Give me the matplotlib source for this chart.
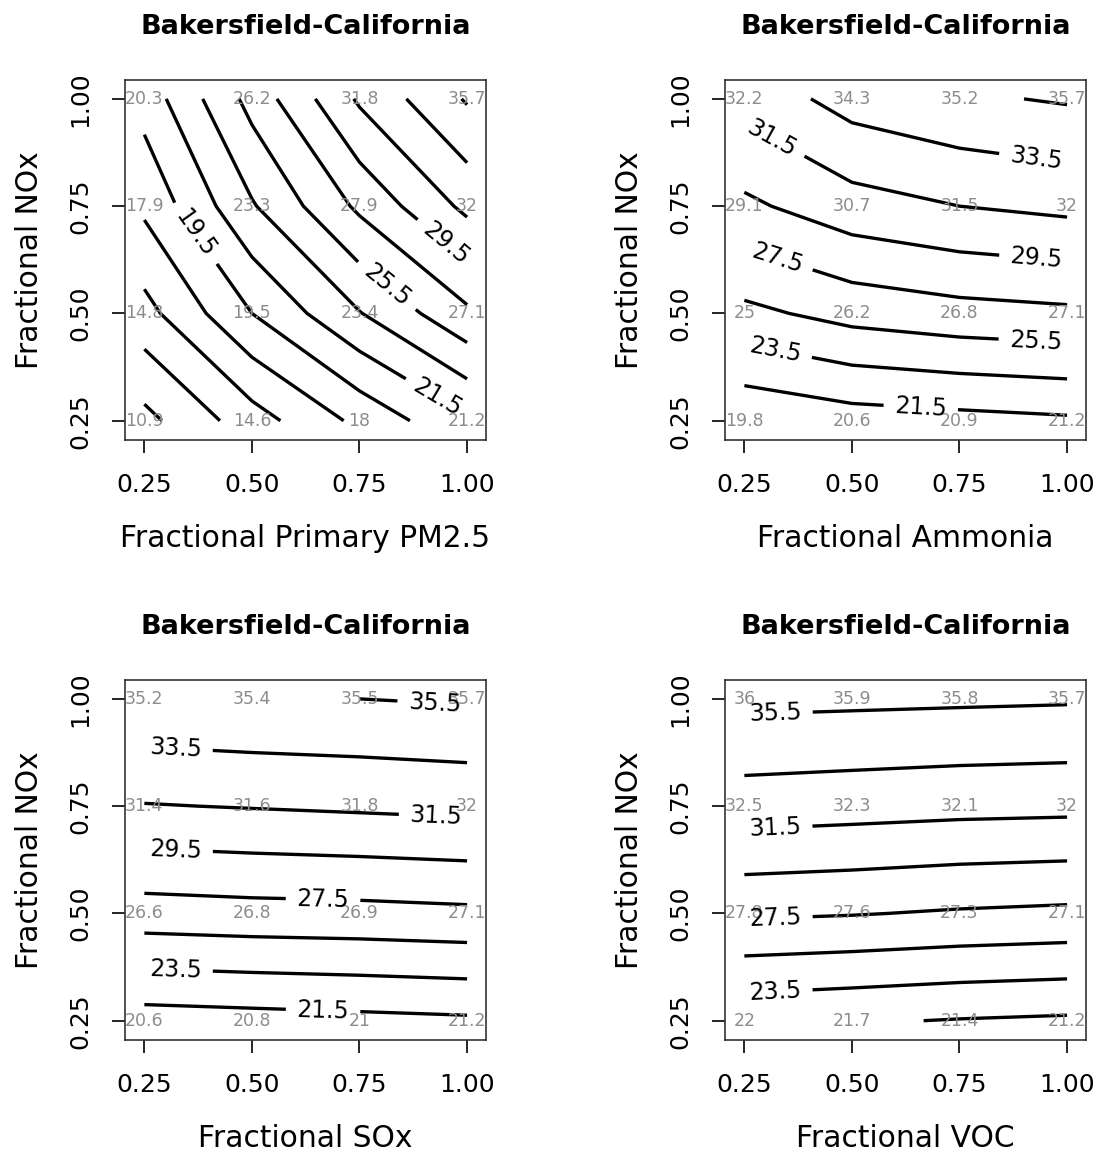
import numpy as np
import matplotlib
matplotlib.use("Agg")
import matplotlib.pyplot as plt

plt.rcParams['font.family'] = ['DejaVu Sans']

# grid of fractional emissions (same on both axes)
frac_x = [0.25, 0.50, 0.75, 1.00]
frac_nox = [0.25, 0.50, 0.75, 1.00]

# PM2.5 at each grid point, rows = NOx 0.25 -> 1.00, cols = x 0.25 -> 1.00
pm_primary = [[10.9, 14.6, 18.0, 21.2],
              [14.8, 19.5, 23.4, 27.1],
              [17.9, 23.3, 27.9, 32.0],
              [20.3, 26.2, 31.8, 35.7]]

pm_ammonia = [[19.8, 20.6, 20.9, 21.2],
              [25.0, 26.2, 26.8, 27.1],
              [29.1, 30.7, 31.5, 32.0],
              [32.2, 34.3, 35.2, 35.7]]

pm_sox = [[20.6, 20.8, 21.0, 21.2],
          [26.6, 26.8, 26.9, 27.1],
          [31.4, 31.6, 31.8, 32.0],
          [35.2, 35.4, 35.5, 35.7]]

pm_voc = [[22.0, 21.7, 21.4, 21.2],
          [27.8, 27.6, 27.3, 27.1],
          [32.5, 32.3, 32.1, 32.0],
          [36.0, 35.9, 35.8, 35.7]]

contour_levels = [11.5, 13.5, 15.5, 17.5, 19.5, 21.5, 23.5, 25.5, 27.5, 29.5, 31.5, 33.5, 35.5]

x_labels = ["Fractional Primary PM2.5", "Fractional Ammonia", "Fractional SOx", "Fractional VOC"]
title = "Bakersfield-California"

# roughly where the contour labels sit (each snaps to the nearest contour)
label_pos = [
    [(0.36, 0.68), (0.81, 0.56), (0.945, 0.655), (0.93, 0.30)],
    [(0.315, 0.91), (0.928, 0.86), (0.928, 0.62), (0.322, 0.615), (0.928, 0.44), (0.322, 0.415), (0.66, 0.28)],
    [(0.925, 0.99), (0.322, 0.88), (0.928, 0.73), (0.322, 0.635), (0.665, 0.52), (0.322, 0.356), (0.665, 0.263)],
    [(0.322, 0.962), (0.322, 0.695), (0.322, 0.49), (0.322, 0.315)],
]

panels = [pm_primary, pm_ammonia, pm_sox, pm_voc]

W, H = 1099, 1154
fig = plt.figure(figsize=(W / 100, H / 100), dpi=100)
boxes = [(125, 80), (725, 80), (125, 680), (725, 680)]
bw, bh = 361, 360

for i, z in enumerate(panels):
    left, top = boxes[i]
    ax = fig.add_axes([left / W, 1 - (top + bh) / H, bw / W, bh / H])
    z = np.array(z)
    ax.set_xlim(0.205, 1.044)
    ax.set_ylim(0.205, 1.044)
    cs = ax.contour(frac_x, frac_nox, z, levels=contour_levels, colors='black', linewidths=2.4)
    ax.clabel(cs, manual=label_pos[i], inline=True, inline_spacing=11, fontsize=17, fmt='%g')
    for yi, yv in enumerate(frac_nox):
        for xi, xv in enumerate(frac_x):
            ax.text(xv, yv, "%g" % z[yi, xi], color='#8c8c8c', fontsize=12.5,
                    ha='center', va='center')
    ax.set_xticks(frac_x)
    ax.set_yticks(frac_nox)
    ax.set_xticklabels(["%.2f" % v for v in frac_x], fontsize=18)
    ax.set_yticklabels(["%.2f" % v for v in frac_nox], fontsize=18, rotation=90, va='center')
    ax.tick_params(direction='out', length=9.5, width=1.2)
    ax.tick_params(axis='x', pad=14.5)
    ax.tick_params(axis='y', pad=14.3)
    ax.set_xlabel(x_labels[i], fontsize=21.4, labelpad=19)
    ax.set_ylabel("Fractional NOx", fontsize=21.4, labelpad=17)
    ax.set_title(title, fontsize=19.5, fontweight='bold', pad=33)
    for s in ax.spines.values():
        s.set_linewidth(1.2)
        s.set_color('#333333')

fig.savefig("out.png", dpi=100)
